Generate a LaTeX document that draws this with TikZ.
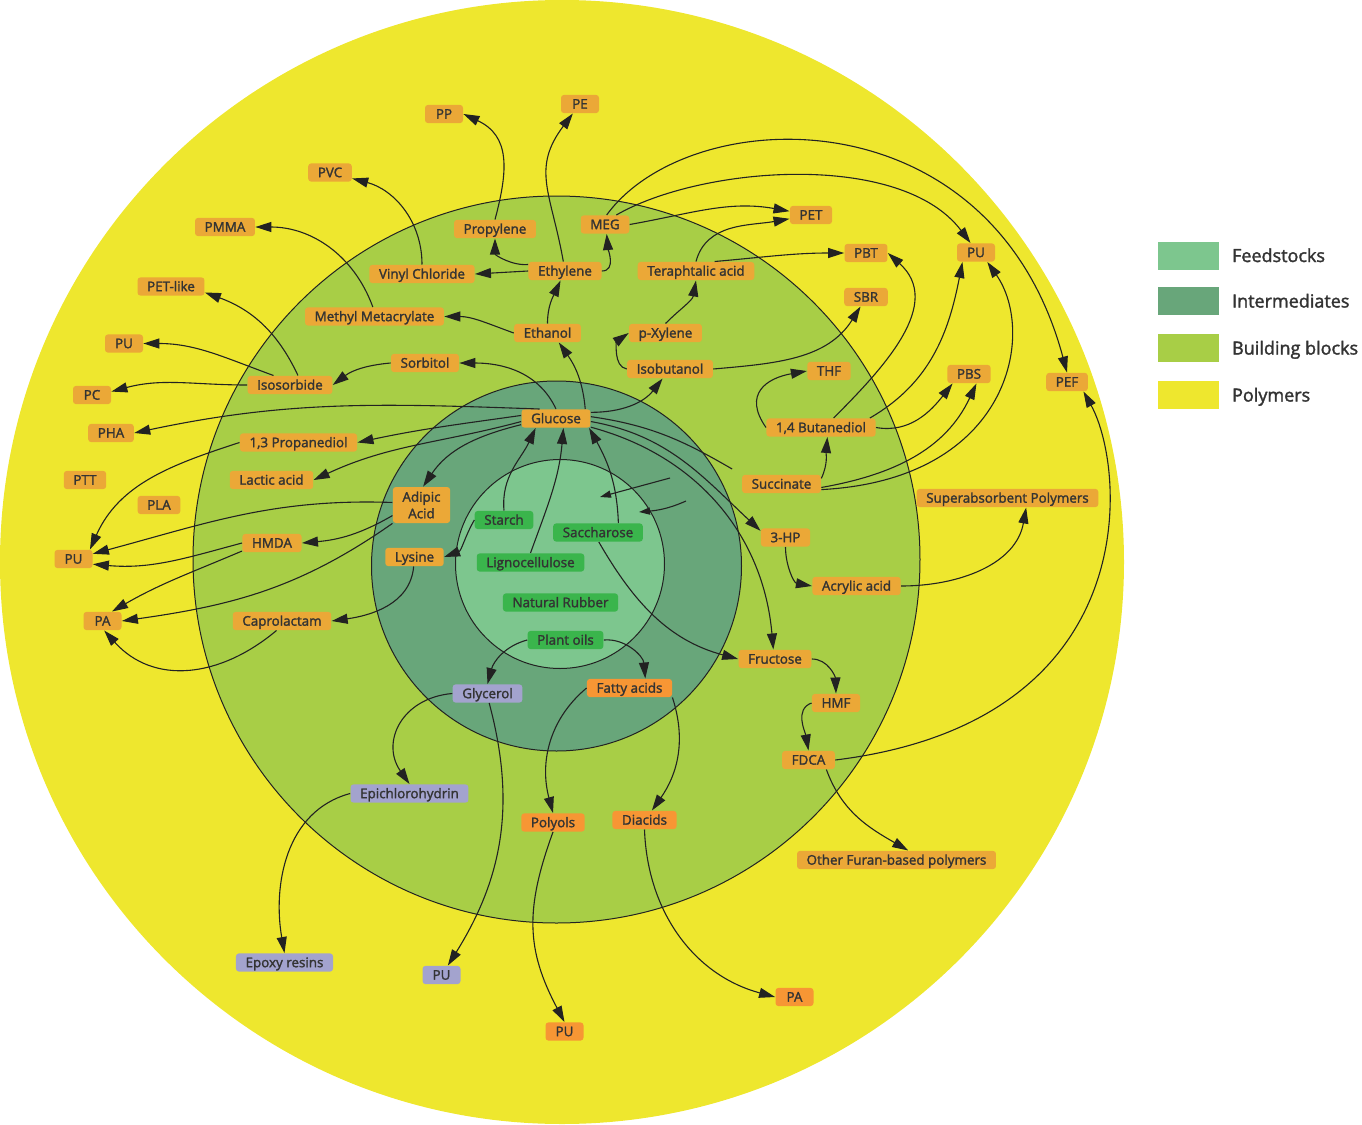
\documentclass[tikz,border=0pt]{standalone}
\usepackage{fontspec}
\setmainfont{Open Sans}[FakeBold=1.8]
\usepackage{tikz}
\usetikzlibrary{arrows.meta}
\usetikzlibrary{positioning}

\definecolor{polym}{RGB}{238,231,46}
\definecolor{build}{RGB}{168,206,70}
\definecolor{interm}{RGB}{104,166,122}
\definecolor{feed}{RGB}{125,198,142}
\definecolor{nodeor}{RGB}{235,168,55}
\definecolor{nodedp}{RGB}{247,150,52}
\definecolor{nodepu}{RGB}{163,163,206}
\definecolor{nodegr}{RGB}{58,181,76}
\definecolor{txt}{RGB}{51,51,51}
\definecolor{wirec}{RGB}{34,34,34}

\begin{document}
\begin{tikzpicture}[x=0.5pt,y=-0.5pt,
    lbl/.style={rounded corners=1.5pt, minimum width=19pt, inner xsep=4.8pt, inner ysep=1.2pt,
                text=txt, font=\fontsize{6.7}{8.3}\selectfont},
    ob/.style={lbl, fill=nodeor, text height=5.7pt, text depth=1pt},
    dob/.style={ob, fill=nodedp},
    pb/.style={ob, fill=nodepu},
    gb/.style={ob, fill=nodegr},
    ring/.style={draw=wirec, line width=0.5pt},
    wire/.style={draw=wirec, line width=0.55pt},
    arr/.style={wire, -{Triangle[length=8pt,width=5pt]}},
    arrs/.style={wire, -{Triangle[length=5.5pt,width=3.6pt]}},
    legsq/.style={minimum width=30.5pt, minimum height=14pt, inner sep=0pt},
    legtxt/.style={inner sep=0pt, text=txt, text height=8.2pt, text depth=1.7pt,
                   font=\fontsize{9}{10}\selectfont}]

    \useasboundingbox (0,0) rectangle (1362,1125);

    % draws circles
    \fill[polym] (562,562) circle[radius=281pt];
    \filldraw[fill=build, ring] (556.5,559.5) circle[radius=181.75pt];
    \filldraw[fill=interm, ring] (556.5,566) circle[radius=92.5pt];
    \filldraw[fill=feed, ring] (560,564) circle[radius=52.25pt];

    % draws feedstocks
    \node[gb] (starch) at (504,520) {Starch};
    \node[gb] (sacch) at (598,532.5) {Saccharose};
    \node[gb] (ligno) at (530.5,562.5) {Lignocellulose};
    \node[gb] (rubber) at (560.5,602.5) {Natural Rubber};
    \node[gb] (oils) at (565.5,640) {Plant oils};

    % draws intermediates and building blocks
    \node[ob] (glucose) at (556,418.5) {Glucose};
    \node[lbl, fill=nodeor, align=center, minimum height=18pt] (adipic) at (421.5,505) {Adipic\\Acid};
    \node[ob] (lysine) at (414.5,557) {Lysine};
    \node[pb] (glycerol) at (487.5,693.5) {Glycerol};
    \node[dob] (fatty) at (629.5,688) {Fatty acids};
    \node[ob] (propylene) at (495,229) {Propylene};
    \node[ob] (meg) at (605,224.5) {MEG};
    \node[ob] (vinyl) at (422,274) {Vinyl Chloride};
    \node[ob] (ethylene) at (565,271) {Ethylene};
    \node[ob] (teraph) at (696,271) {Teraphtalic acid};
    \node[ob] (mma) at (374.5,316.5) {Methyl Metacrylate};
    \node[ob] (ethanol) at (547.5,333) {Ethanol};
    \node[ob] (pxylene) at (665.5,333) {p-Xylene};
    \node[ob] (sorbitol) at (425,363) {Sorbitol};
    \node[ob] (isobutanol) at (670,369) {Isobutanol};
    \node[ob] (isosorbide) at (290,385) {Isosorbide};
    \node[ob] (bdo) at (821,427.5) {1,4 Butanediol};
    \node[ob] (pdo) at (298.5,442.5) {1,3 Propanediol};
    \node[ob] (lactic) at (271.5,480) {Lactic acid};
    \node[ob] (succinate) at (781.5,484) {Succinate};
    \node[ob] (hmda) at (272,543) {HMDA};
    \node[ob] (threehp) at (785.5,537.5) {3-HP};
    \node[ob] (acrylic) at (856.5,586) {Acrylic acid};
    \node[ob] (capro) at (282,621) {Caprolactam};
    \node[ob] (fructose) at (775,659) {Fructose};
    \node[ob] (hmf) at (836,703) {HMF};
    \node[ob] (fdca) at (808.5,760) {FDCA};
    \node[pb] (epi) at (409.5,793.5) {Epichlorohydrin};
    \node[dob] (polyols) at (553,822.5) {Polyols};
    \node[dob] (diacids) at (644.5,820) {Diacids};

    % draws polymers
    \node[ob] (pp) at (444,114) {PP};
    \node[ob] (pe) at (580,104) {PE};
    \node[ob] (pvc) at (330,172.5) {PVC};
    \node[ob] (pmma) at (225,227) {PMMA};
    \node[ob] (petlike) at (171,286.5) {PET-like};
    \node[ob] (puA) at (124,343.5) {PU};
    \node[ob] (pc) at (92,395) {PC};
    \node[ob] (pha) at (111,433) {PHA};
    \node[ob] (ptt) at (85,480) {PTT};
    \node[ob] (pla) at (159,505) {PLA};
    \node[ob] (puB) at (73.5,559) {PU};
    \node[ob] (paA) at (102.5,621) {PA};
    \node[ob] (pet) at (811,215) {PET};
    \node[ob] (pbt) at (866,253) {PBT};
    \node[ob] (puC) at (976,252.5) {PU};
    \node[ob] (sbr) at (866,297) {SBR};
    \node[ob] (thf) at (829,371) {THF};
    \node[ob] (pbs) at (969,374) {PBS};
    \node[ob] (pef) at (1067,382) {PEF};
    \node[ob] (sap) at (1007.5,498) {Superabsorbent Polymers};
    \node[ob] (ofp) at (896.5,860) {Other Furan-based polymers};
    \node[pb] (epoxy) at (284.5,962.5) {Epoxy resins};
    \node[pb] (puD) at (441.5,975) {PU};
    \node[dob] (pubot) at (564.5,1031.5) {PU};
    \node[dob] (pabot) at (794.5,997) {PA};

    % draws legend
    \node[legsq, fill=feed] (kfeed) at (1188.8,255.5) {};
    \node[legsq, fill=interm] (kinterm) at (1188.8,301) {};
    \node[legsq, fill=build] (kbuild) at (1188.8,348) {};
    \node[legsq, fill=polym] (kpolym) at (1188.8,395) {};
    \node[legtxt, right=6pt of kfeed] (tfeed) {Feedstocks};
    \node[legtxt, right=6pt of kinterm] (tinterm) {Intermediates};
    \node[legtxt, right=6pt of kbuild] (tbuild) {Building blocks};
    \node[legtxt, right=6pt of kpolym] (tpolym) {Polymers};

    % draws edges from the feedstocks
    \draw[arr] (starch.north) to[out=95,in=-115] (glucose.-155);
    \draw[arr] (ligno.north) to[out=70,in=-95] (glucose.-52);
    \draw[arr] (sacch.25) to[out=92,in=-61] (glucose.-16);
    \draw[arr] (sacch.-85) to[out=-60,in=165] (fructose.west);
    \draw[arr] (starch.west) to[out=-120,in=20] (lysine.east);
    \draw[arr] (oils.west) to[out=195,in=75] (glycerol.north);
    \draw[arr] (oils.east) to[out=5,in=95] (fatty.31);

    % draws edges from glucose
    \draw[arr] (glucose.north) to[out=115,in=0] (sorbitol);
    \draw[arr] (glucose.18) to[out=95,in=-55] (ethanol.-40);
    \draw[arr] (glucose.10) to[out=0,in=-128] (isobutanol);
    \draw[wire, shorten >=5.5pt] (glucose.3) to[out=-8,in=150] (succinate.north west);
    \draw[arr] (glucose.-5) to[out=-10,in=137] (threehp.165);
    \draw[arr] (glucose.-14) to[out=-15,in=95] (fructose.100);
    \draw[arr] (glucose.150) to[out=178,in=12] (pha.east);
    \draw[arr] (glucose.175) to[out=188,in=12] (pdo.east);
    \draw[arr] (glucose.-175) to[out=195,in=25] (lactic.east);
    \draw[arr] (glucose.-170) to[out=-166,in=56] (adipic.85);

    % draws edges on the left
    \draw[arr] (sorbitol.west) to[out=185,in=37] (isosorbide.east);
    \draw[arr] (isosorbide.50) to[out=115,in=-20] (petlike.-10);
    \draw[arr] (isosorbide.150) to[out=160,in=0] (puA);
    \draw[arr] (isosorbide.west) to[out=180,in=15] (pc.10);
    \draw[arr] (pdo.west) to[out=-162,in=66] (puB.30);
    \draw[arr] (adipic.175) to[out=178,in=15] (puB.15);
    \draw[arr] (adipic.-160) to[out=-150,in=5] (hmda.east);
    \draw[arr] (adipic.south west) to[out=-145,in=8] (paA.east);
    \draw[arr] (hmda.west) to[out=195,in=-5] (puB.-15);
    \draw[arr] (hmda.-165) to[out=-157,in=30] (paA.45);
    \draw[arr] (lysine.-95) to[out=-95,in=8] (capro.east);
    \draw[arr] (capro.-120) to[out=-140,in=-48,looseness=1.1] (paA.-80);

    % draws edges on top
    \draw[arr] (ethanol.north) to[out=90,in=-115] (ethylene);
    \draw[arr] (ethanol.west) to[out=160,in=0] (mma.east);
    \draw[arr] (mma.100) to[out=110,in=0] (pmma);
    \draw[arr] (vinyl.north) to[out=90,in=-15] (pvc);
    \draw[arr] (ethylene.west) to (vinyl.east);
    \draw[arr] (ethylene.170) to[out=185,in=-90] (propylene);
    \draw[arr] (ethylene.100) to[out=100,in=-127,looseness=1.2] (pe);
    \draw[arr] (ethylene.east) to[out=0,in=-85] (meg.-80);
    \draw[arr] (propylene.north) to[out=75,in=-25,looseness=1.2] (pp.east);
    \draw[arr] (meg.east) to[out=10,in=170] (pet.170);
    \draw[arr] (meg.40) to[out=30,in=127,out distance=49pt,in distance=58pt] (puC.120);
    \draw[arr] (meg.80) to[out=54,in=105,out distance=70pt,in distance=146pt] (pef.north);
    \draw[arr] (teraph.north) to[out=75,in=190] (pet.190);
    \draw[arr] (teraph.27) to[out=5,in=180] (pbt);
    \draw[arr] (pxylene.north) to[out=45,in=-100] (teraph.south);
    \draw[arr] (isobutanol.west) to[out=170,in=215] (pxylene.west);
    \draw[arr] (isobutanol.east) to[out=5,in=-122] (sbr.-120);

    % draws edges on the right
    \draw[arr] (bdo.west) to[out=125,in=190,looseness=1.5] (thf.west);
    \draw[arr] (bdo.37) to[out=45,in=-42,looseness=1.1] (pbt.east);
    \draw[arr] (bdo.11) to[out=30,in=-101] (puC.-145);
    \draw[arr] (bdo.east) to[out=-10,in=-128] (pbs.-150);
    \draw[arr] (succinate.8) to[out=65,in=-95] (bdo.-56);
    \draw[arr] (succinate.-5) to[out=10,in=-115] (pbs.-52);
    \draw[arr] (succinate.-8) to[out=3,in=-55,out distance=95pt,in distance=43pt] (puC.-40);
    \draw[arr] (threehp.south) to[out=-90,in=170] (acrylic.west);
    \draw[arr] (acrylic.east) to[out=0,in=-100] (sap.-27);
    \draw[arr] (fructose.east) to[out=0,in=92] (hmf.north);
    \draw[arr] (hmf.west) to[out=200,in=100] (fdca.north);
    \draw[arr] (fdca.east) to[out=7,in=-61,out distance=157pt,in distance=44pt] (pef.-30);
    \draw[arr] (fdca.-28) to[out=-70,in=150] (ofp.39);

    % draws edges at the bottom
    \draw[arr] (glycerol.west) to[out=185,in=125,looseness=1.3] (epi.north);
    \draw[arr] (glycerol.-80) to[out=-75,in=58] (puD.56);
    \draw[arr] (epi.west) to[out=-165,in=100] (epoxy.north);
    \draw[arr] (fatty.west) to[out=-140,in=105] (polyols.north);
    \draw[arr] (fatty.south east) to[out=-72,in=55] (diacids.52);
    \draw[arr] (polyols.south) to[out=-110,in=118,looseness=1.1] (pubot.north);
    \draw[arr] (diacids.south) to[out=-88,in=165] (pabot.west);

    % draws loose arrows
    \coordinate (looseA) at (670,478);
    \coordinate (looseB) at (600,497);
    \coordinate (looseC) at (686,501);
    \coordinate (looseD) at (639,512);
    \draw[arrs] (looseA) -- (looseB);
    \draw[arrs] (looseC) to[out=-156,in=5] (looseD);
\end{tikzpicture}
\end{document}
